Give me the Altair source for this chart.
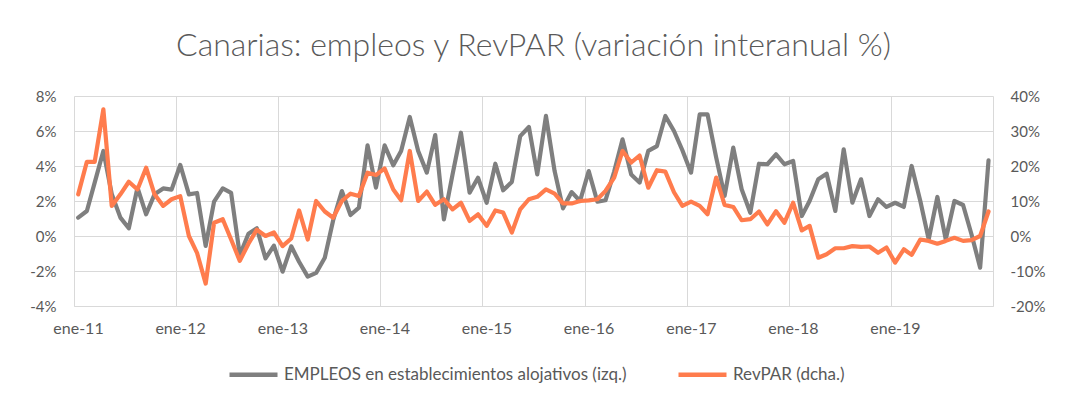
import altair as alt
import pandas as pd

# Monthly data, ene-2011 .. dic-2019 (variación interanual, %)
empleos = [
    1.05, 1.43, 3.05, 4.86, 2.4, 1.05, 0.44, 2.76, 1.24, 2.38, 2.72, 2.65,
    4.06, 2.38, 2.46, -0.57, 1.96, 2.72, 2.46, -1.09, 0.13, 0.44, -1.28, -0.55,
    -2.04, -0.59, -1.47, -2.32, -2.11, -1.24, 0.9, 2.57, 1.2, 1.62, 5.18, 2.76,
    5.18, 4.04, 4.86, 6.8, 4.86, 3.62, 5.77, 0.95, 3.52, 5.9, 2.48, 3.33,
    1.9, 4.13, 2.61, 3.09, 5.71, 6.23, 3.52, 6.86, 3.71, 1.58, 2.51, 2.0,
    3.71, 1.96, 2.04, 3.68, 5.52, 3.52, 3.05, 4.86, 5.14, 6.86, 6.0, 4.9,
    3.62, 6.95, 6.95, 4.48, 2.29, 5.05, 2.67, 1.33, 4.13, 4.1, 4.67, 4.1,
    4.29, 1.14, 2.0, 3.24, 3.56, 1.43, 4.95, 1.9, 3.24, 1.14, 2.1, 1.66,
    1.9, 1.66, 4.0, 2.0, -0.19, 2.23, -0.19, 2.0, 1.77, 0.1, -1.81, 4.32,
]
revpar = [
    11.9, 21.2, 21.2, 36.2, 8.6, 11.9, 15.5, 13.3, 19.5, 11.9, 8.6, 10.5,
    11.4, 0.0, -4.8, -13.6, 3.8, 4.8, -1.0, -7.1, -2.2, 1.8, 0.0, 1.0,
    -2.9, -0.7, 7.3, -1.0, 10.0, 7.0, 5.2, 10.0, 12.1, 11.4, 18.1, 17.4,
    19.3, 13.3, 10.2, 24.3, 10.0, 12.7, 8.9, 10.5, 7.6, 9.5, 4.3, 6.2,
    2.9, 7.3, 6.7, 1.0, 7.6, 10.5, 11.2, 13.3, 12.1, 9.3, 9.3, 10.0,
    10.2, 10.5, 12.9, 16.7, 24.3, 21.0, 23.0, 13.8, 18.8, 18.4, 12.5, 8.6,
    9.8, 8.6, 6.2, 16.7, 8.9, 8.3, 4.5, 4.8, 7.0, 3.3, 7.1, 3.8,
    9.5, 1.6, 2.9, -6.2, -5.2, -3.5, -3.5, -2.9, -3.1, -3.0, -4.8, -3.3,
    -7.6, -3.8, -5.4, -1.0, -1.4, -2.2, -1.4, -0.5, -1.4, -1.2, 0.0, 7.0,
]
left_ticks = [-4, -2, 0, 2, 4, 6, 8]
right_ticks = [-20, -10, 0, 10, 20, 30, 40]
years = list(range(2011, 2021))

serie_emp = "EMPLEOS en establecimientos alojativos (izq.)"
serie_rev = "RevPAR (dcha.)"

fechas = pd.date_range("2011-01-01", periods=len(empleos), freq="MS") + pd.Timedelta(days=15)
df = pd.concat([
    pd.DataFrame({"fecha": fechas, "valor": empleos, "serie": serie_emp}),
    pd.DataFrame({"fecha": fechas, "valor": revpar, "serie": serie_rev}),
], ignore_index=True)
df["fecha"] = df["fecha"].dt.strftime("%Y-%m-%dT00:00:00")

TXT = "#595959"
GRID = "#d9d9d9"
FONT = "Lato"

x_enc = alt.X(
    "fecha:T",
    scale=alt.Scale(domain=[alt.DateTime(year=2011, month=1, date=1),
                            alt.DateTime(year=2020, month=1, date=1)]),
    axis=alt.Axis(
        values=[alt.DateTime(year=y, month=1, date=1) for y in years],
        labelExpr="year(datum.value) >= 2020 ? '' : 'ene-' + timeFormat(datum.value, '%y')",
        title=None, grid=True, gridColor=GRID, domainColor=GRID, ticks=False,
        labelOffset=4, labelPadding=14, labelFlush=False, labelFontSize=16,
    ),
)

color_enc = alt.Color(
    "serie:N",
    scale=alt.Scale(domain=[serie_emp, serie_rev], range=["#7f7f7f", "#ff7c4d"]),
    legend=alt.Legend(orient="none", legendX=153, legendY=252,
                      direction="horizontal", title=None,
                      symbolType="stroke", symbolStrokeWidth=4.5,
                      symbolSize=2304, labelFontSize=17, labelColor=TXT,
                      labelFont=FONT, labelLimit=0, columnPadding=42, labelOffset=4),
)

base = alt.Chart(df).mark_line(strokeWidth=4.2, strokeJoin="round", strokeCap="round")

l1 = base.transform_filter(alt.datum.serie == serie_emp).encode(
    x=x_enc,
    y=alt.Y("valor:Q", scale=alt.Scale(domain=[-4, 8]),
            axis=alt.Axis(values=left_ticks, labelExpr="datum.value + '%'", title=None,
                          domain=False, ticks=False, grid=True, gridColor=GRID,
                          labelPadding=18, orient="left")),
    color=color_enc,
)

l2 = base.transform_filter(alt.datum.serie == serie_rev).encode(
    x=x_enc,
    y=alt.Y("valor:Q", scale=alt.Scale(domain=[-20, 40]),
            axis=alt.Axis(values=right_ticks, labelExpr="datum.value + '%'", title=None,
                          domain=False, ticks=False, grid=False,
                          labelPadding=17, orient="right")),
    color=color_enc,
)

chart = alt.layer(l1, l2).resolve_scale(y="independent").properties(
    width=919, height=210,
    title=alt.TitleParams("Canarias: empleos y RevPAR (variación interanual %)",
                          fontSize=32, font=FONT, fontWeight=300, color=TXT,
                          anchor="middle", offset=26),
    autosize=alt.AutoSizeParams(type="none"),
    padding={"left": 66, "top": 88, "right": 67, "bottom": 93},
).configure_axis(
    labelFont=FONT, labelFontSize=15, labelColor=TXT,
).configure_view(stroke=None)

chart.save("out.html", embed_options={"renderer": "svg", "actions": False})
